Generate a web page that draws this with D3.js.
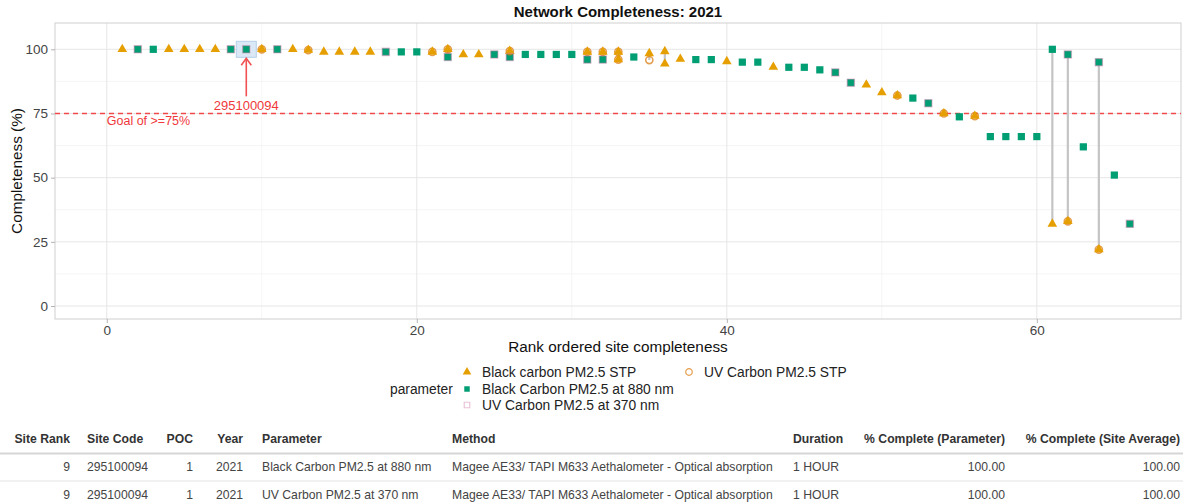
<!DOCTYPE html>
<html><head><meta charset="utf-8">
<script src="https://cdn.jsdelivr.net/npm/d3@7"></script>
<style>
html,body{margin:0;padding:0;background:#fff;}
svg{display:block;font-family:"Liberation Sans",Arial,Helvetica,sans-serif;}
</style></head>
<body>
<svg id="chart" width="1183" height="502"></svg>
<script>
// ---------------- DATA ----------------
const title = "Network Completeness: 2021";
const xTicks = [0, 20, 40, 60];
const yTicks = [0, 25, 50, 75, 100];
const goal = 75;
const highlightRank = 9;
const highlightSite = "295100094";

// Black carbon PM2.5 STP (triangles)
const bcStpRank = [1,4,5,6,7,10,12,13,14,15,16,17,21,22,23,24,26,31,32,33,33,35,36,36,37,40,43,49,50,51,54,56,61,62,64];
const bcStpVal  = [100,100,100,100,100,100,100,99.7,99,99,99,99,99,100,98,98,99.3,99,99,99,96,98.4,99.2,94.4,96.2,95.3,93.1,86.2,83.2,82,75,74,32,33,22];

// Black Carbon PM2.5 at 880 nm (filled squares)
const bc880Rank = [2,3,8,9,11,18,19,20,22,25,26,27,28,29,30,31,32,34,38,39,41,42,44,45,46,47,48,52,53,55,57,58,59,60,61,62,63,64,65,66];
const bc880Val  = [100,100,100,100,100,99,99,99,97,98,97,98,98,98,98,96,96,97,96,96,95,95,93,93,92,91,87,81,79,73.7,66,66,66,66,100,98,62,95,51,32];

// UV Carbon PM2.5 at 370 nm (open squares)
const uv370Rank = [2,8,9,11,18,22,25,26,31,32,47,48,53,62,64,66];
const uv370Val  = [100,100,100,100,99,97,98,97,96,96,91,87,79,98,95,32];

// UV Carbon PM2.5 STP (open circles)
const uvStpRank = [10,13,21,22,26,31,32,33,33,35,51,54,56,62,64];
const uvStpVal  = [100,99.7,99,100,99.3,99,99,99,96,95.8,82,75,74,33,22];

const seriesNames = ["Black carbon PM2.5 STP","Black Carbon PM2.5 at 880 nm","UV Carbon PM2.5 at 370 nm","UV Carbon PM2.5 STP"];

// Table
const tableHeaders = ["Site Rank","Site Code","POC","Year","Parameter","Method","Duration","% Complete (Parameter)","% Complete (Site Average)"];
const tableRows = [
  ["9","295100094","1","2021","Black Carbon PM2.5 at 880 nm","Magee AE33/ TAPI M633 Aethalometer - Optical absorption","1 HOUR","100.00","100.00"],
  ["9","295100094","1","2021","UV Carbon PM2.5 at 370 nm","Magee AE33/ TAPI M633 Aethalometer - Optical absorption","1 HOUR","100.00","100.00"]
];

// ---------------- DRAW ----------------
const svg = d3.select("#chart");
const P = {left:55, right:1181, top:23, bottom:319};
const x = d3.scaleLinear().domain([-3.34, 69.3]).range([P.left, P.right]);
const y = d3.scaleLinear().domain([-5.06, 110.25]).range([P.bottom, P.top]);

const ORANGE = "#E69F00", GREEN = "#009E73";
const PINK = "rgba(204,121,167,0.45)", CIRC = "rgba(220,125,20,0.75)";

// grid
const g = svg.append("g");
[10,30,50].forEach(v=>g.append("line").attr("x1",x(v)).attr("x2",x(v)).attr("y1",P.top).attr("y2",P.bottom).attr("stroke","#f3f3f3").attr("stroke-width",0.8));
[12.5,37.5,62.5,87.5].forEach(v=>g.append("line").attr("x1",P.left).attr("x2",P.right).attr("y1",y(v)).attr("y2",y(v)).attr("stroke","#f3f3f3").attr("stroke-width",0.8));
xTicks.forEach(v=>g.append("line").attr("x1",x(v)).attr("x2",x(v)).attr("y1",P.top).attr("y2",P.bottom).attr("stroke","#e6e6e6").attr("stroke-width",1));
yTicks.forEach(v=>g.append("line").attr("x1",P.left).attr("x2",P.right).attr("y1",y(v)).attr("y2",y(v)).attr("stroke","#e6e6e6").attr("stroke-width",1));
g.append("rect").attr("x",P.left).attr("y",P.top).attr("width",P.right-P.left).attr("height",P.bottom-P.top)
  .attr("fill","none").attr("stroke","#cfcfcf").attr("stroke-width",1);

// axes
const xAxis = svg.append("g").attr("transform",`translate(0,${P.bottom})`)
  .call(d3.axisBottom(x).tickValues(xTicks).tickSize(4).tickPadding(2));
const yAxis = svg.append("g").attr("transform",`translate(${P.left},0)`)
  .call(d3.axisLeft(y).tickValues(yTicks).tickSize(4).tickPadding(3));
[xAxis,yAxis].forEach(a=>{
  a.select(".domain").remove();
  a.selectAll(".tick line").attr("stroke","#b3b3b3");
  a.selectAll(".tick text").attr("fill","#444").style("font-size","13.5px").style("font-family","Liberation Sans, Arial, sans-serif");
});

// goal line
svg.append("line").attr("x1",P.left).attr("x2",P.right).attr("y1",y(goal)).attr("y2",y(goal))
  .attr("stroke","#f0484b").attr("stroke-width",1.3).attr("stroke-dasharray","5,4");
svg.append("text").attr("x",x(0)).attr("y",y(goal)+12).text("Goal of >=75%")
  .attr("fill","#f0383b").style("font-size","12.5px");

// segments between min and max per rank
const all = [];
[[bcStpRank,bcStpVal],[bc880Rank,bc880Val],[uv370Rank,uv370Val],[uvStpRank,uvStpVal]].forEach(([r,v])=>r.forEach((rk,i)=>all.push({r:rk,v:v[i]})));
const byRank = d3.rollup(all, a=>[d3.min(a,d=>d.v), d3.max(a,d=>d.v)], d=>d.r);
byRank.forEach((mm,rk)=>{
  if(mm[1]-mm[0] > 1.5){
    svg.append("line").attr("x1",x(rk)).attr("x2",x(rk)).attr("y1",y(mm[0])).attr("y2",y(mm[1]))
      .attr("stroke","#c4c4c4").attr("stroke-width",2.2);
  }
});

// highlight box
svg.append("rect").attr("x",x(highlightRank)-10).attr("y",y(100)-8).attr("width",20).attr("height",16)
  .attr("fill","#dbe8f5").attr("stroke","#b5cfe8").attr("stroke-width",1);

const sym = (type,size)=>d3.symbol().type(type).size(size)();
const pts = svg.append("g");
// squares 880
pts.selectAll(".sq").data(bc880Rank.map((r,i)=>({r,v:bc880Val[i]}))).join("path")
  .attr("transform",d=>`translate(${x(d.r)},${y(d.v)})`).attr("d",sym(d3.symbolSquare,52)).attr("fill",GREEN);
// open circles
pts.selectAll(".oc").data(uvStpRank.map((r,i)=>({r,v:uvStpVal[i]}))).join("path")
  .attr("transform",d=>`translate(${x(d.r)},${y(d.v)})`).attr("d",sym(d3.symbolCircle,40)).attr("fill","none").attr("stroke",CIRC).attr("stroke-width",1.6);
// triangles
pts.selectAll(".tri").data(bcStpRank.map((r,i)=>({r,v:bcStpVal[i]}))).join("path")
  .attr("transform",d=>`translate(${x(d.r)},${y(d.v)})`).attr("d",sym(d3.symbolTriangle,40)).attr("fill",ORANGE);
// open squares 370
pts.selectAll(".osq").data(uv370Rank.map((r,i)=>({r,v:uv370Val[i]}))).join("path")
  .attr("transform",d=>`translate(${x(d.r)},${y(d.v)})`).attr("d",sym(d3.symbolSquare,52)).attr("fill","none").attr("stroke",PINK).attr("stroke-width",1.3);

// arrow + label
const ax = x(highlightRank);
const aTop = y(100)+9, aBot = y(100)+47;
svg.append("line").attr("x1",ax).attr("x2",ax).attr("y1",aBot).attr("y2",aTop).attr("stroke","#f05050").attr("stroke-width",1.6);
svg.append("path").attr("d",`M${ax-5},${aTop+7}L${ax},${aTop}L${ax+5},${aTop+7}`).attr("fill","none").attr("stroke","#f05050").attr("stroke-width",1.6);
svg.append("text").attr("x",ax).attr("y",aBot+14).attr("text-anchor","middle").text(highlightSite)
  .attr("fill","#f0383b").style("font-size","13px");

// titles
svg.append("text").attr("x",(P.left+P.right)/2).attr("y",17).attr("text-anchor","middle").text(title)
  .style("font-size","15px").style("font-weight","bold").attr("fill","#111");
svg.append("text").attr("x",(P.left+P.right)/2).attr("y",352).attr("text-anchor","middle").text("Rank ordered site completeness")
  .style("font-size","15.3px").attr("fill","#111");
svg.append("text").attr("transform",`translate(22,${(P.top+P.bottom)/2}) rotate(-90)`).attr("text-anchor","middle").text("Completeness (%)")
  .style("font-size","15.3px").attr("fill","#111");

// legend
const lg = svg.append("g");
lg.append("text").attr("x",390).attr("y",393.5).text("parameter").style("font-size","13.8px").attr("fill","#222");
const legItems = [
  {name:seriesNames[0], cx:467, cy:372, draw:s=>s.attr("d",sym(d3.symbolTriangle,32)).attr("fill",ORANGE)},
  {name:seriesNames[1], cx:467, cy:389, draw:s=>s.attr("d",sym(d3.symbolSquare,30)).attr("fill",GREEN)},
  {name:seriesNames[2], cx:467, cy:405, draw:s=>s.attr("d",sym(d3.symbolSquare,30)).attr("fill","none").attr("stroke",PINK).attr("stroke-width",1.2)},
  {name:seriesNames[3], cx:689, cy:372, draw:s=>s.attr("d",sym(d3.symbolCircle,34)).attr("fill","none").attr("stroke",CIRC).attr("stroke-width",1.2)}
];
legItems.forEach(it=>{
  it.draw(lg.append("path").attr("transform",`translate(${it.cx},${it.cy})`));
  lg.append("text").attr("x",it.cx+15).attr("y",it.cy+5).text(it.name).style("font-size","13.8px").attr("fill","#222");
});

// table
const cols = [
  {x:70, a:"end"},{x:87,a:"start"},{x:193,a:"end"},{x:243,a:"end"},{x:262,a:"start"},
  {x:452,a:"start"},{x:793,a:"start"},{x:1005,a:"end"},{x:1180,a:"end"}
];
const tg = svg.append("g").style("font-size","12.2px");
tableHeaders.forEach((h,i)=>{
  tg.append("text").attr("x",cols[i].x).attr("y",443).attr("text-anchor",cols[i].a).text(h)
    .style("font-weight","bold").attr("fill","#333");
});
tg.append("line").attr("x1",0).attr("x2",1183).attr("y1",453.5).attr("y2",453.5).attr("stroke","#d6d6d6").attr("stroke-width",2);
tg.append("line").attr("x1",0).attr("x2",1183).attr("y1",481).attr("y2",481).attr("stroke","#e3e3e3").attr("stroke-width",1);
tableRows.forEach((row,ri)=>{
  row.forEach((c,i)=>{
    tg.append("text").attr("x",cols[i].x).attr("y",470.5+ri*28).attr("text-anchor",cols[i].a).text(c).attr("fill","#444");
  });
});
</script>
</body></html>
